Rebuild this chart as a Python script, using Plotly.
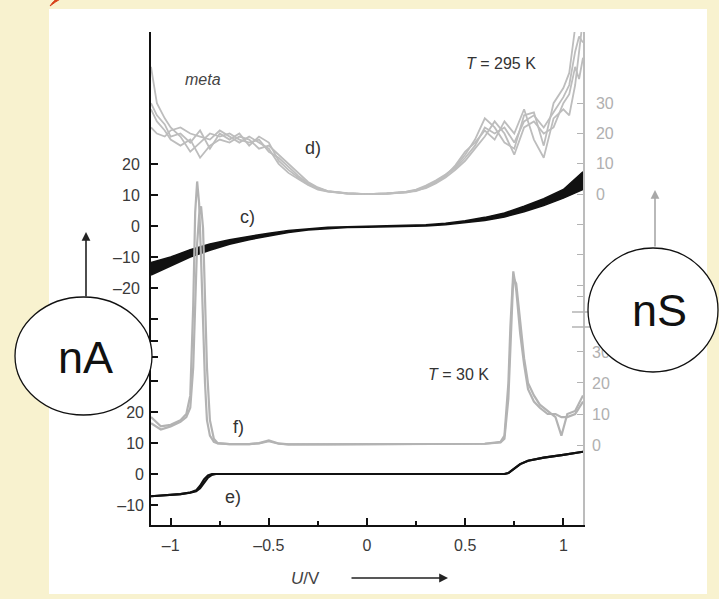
import plotly.graph_objects as go

# ---------------- data ----------------
# c) current at 295 K (nA, upper panel) - band of many sweeps
c_x = [-1.1, -1.0, -0.9, -0.8, -0.7, -0.6, -0.5, -0.4, -0.3, -0.2, -0.1, 0.0,
       0.1, 0.2, 0.3, 0.4, 0.5, 0.6, 0.7, 0.8, 0.9, 1.0, 1.1]
c_upper = [-11.8, -10.0, -7.6, -5.8, -4.4, -3.3, -2.3, -1.4, -0.8, -0.4, -0.2, -0.1,
           0.0, 0.1, 0.4, 0.9, 1.7, 2.8, 4.2, 6.4, 8.8, 11.8, 17.5]
c_lower = [-15.8, -13.0, -10.0, -7.8, -5.9, -4.4, -3.2, -2.1, -1.3, -0.8, -0.5, -0.4,
           -0.3, -0.2, 0.0, 0.4, 1.0, 1.8, 2.9, 4.6, 6.6, 9.0, 11.8]

# d) conductance at 295 K (nS, upper panel) - strands of the bundle
d_x = [-1.1, -1.07, -1.03, -1.0, -0.95, -0.9, -0.85, -0.8, -0.75, -0.7, -0.65, -0.6,
       -0.55, -0.5, -0.45, -0.4, -0.35, -0.3, -0.25, -0.2, -0.1, 0.0, 0.1, 0.2, 0.25,
       0.3, 0.35, 0.4, 0.45, 0.5, 0.55, 0.6, 0.65, 0.7, 0.75, 0.8, 0.85, 0.9, 0.95,
       1.0, 1.03, 1.06, 1.08, 1.1]
d_a = [42, 30, 25, 22, 19, 14, 17, 20, 19, 20, 18, 17, 18, 14, 12, 9, 6, 3.5, 2, 1,
       0.2, 0, 0.2, 0.8, 1.5, 2.8, 4.5, 6.5, 9, 13, 18, 25, 22, 17, 15, 26, 27, 16, 30,
       35, 40, 55, 60, 62]
d_b = [28, 24, 21, 18, 16, 18, 12, 16, 18, 17, 19, 18, 15, 16, 13, 10, 7, 4, 2.2, 1,
       0.3, 0, 0.2, 0.5, 1.2, 2.0, 3.5, 5.5, 8, 11, 15, 19, 24, 20, 13, 22, 24, 20, 22,
       30, 33, 42, 38, 45]
d_c = [22, 20, 19, 21, 22, 20, 19, 18, 21, 19, 17, 19, 17, 15, 10, 7, 5, 3, 1.5, 0.8,
       0.2, 0, 0.1, 0.6, 1.0, 2.2, 3.8, 6, 9.5, 14, 17, 21, 18, 24, 20, 28, 18, 12, 25,
       28, 26, 36, 48, 58]
d_d = [30, 26, 23, 19, 20, 17, 21, 15, 20, 18, 20, 16, 19, 17, 11, 8, 5.5, 3.2, 1.8, 0.9,
       0.2, 0, 0.2, 0.7, 1.3, 2.5, 4.2, 6.2, 8.5, 12, 16, 22, 20, 22, 17, 24, 26, 22, 27,
       32, 36, 47, 52, 50]

# e) current at 30 K (nA, lower panel)
e_x = [-1.1, -1.0, -0.95, -0.9, -0.87, -0.85, -0.83, -0.81, -0.79, -0.77, 0.0, 0.7,
       0.72, 0.75, 0.78, 0.82, 0.9, 1.0, 1.1]
e_a = [-7.2, -6.8, -6.5, -6.0, -5.6, -4.6, -2.8, -1.2, -0.3, 0.0, 0.0, 0.0,
       0.3, 1.8, 3.2, 4.3, 5.3, 6.2, 7.2]
e_b = [-7.2, -6.8, -6.5, -6.0, -5.3, -3.8, -1.8, -0.5, 0.0, 0.0, 0.0, 0.0,
       0.3, 1.8, 3.2, 4.3, 5.3, 6.2, 7.2]

# f) conductance at 30 K (nS, lower panel) - two strands
f_x = [-1.1, -1.05, -1.0, -0.95, -0.92, -0.9, -0.885, -0.875, -0.865, -0.855, -0.845,
       -0.835, -0.825, -0.815, -0.8, -0.78, -0.76, -0.7, -0.6, -0.55, -0.5, -0.45, -0.4,
       -0.2, 0.0, 0.2, 0.4, 0.6, 0.68, 0.7, 0.72, 0.73, 0.745, 0.76, 0.78, 0.8, 0.82,
       0.85, 0.88, 0.92, 0.96, 0.99, 1.02, 1.06, 1.1]
f_a = [9, 6, 6.5, 8, 10, 16, 45, 75, 85, 78, 60, 40, 20, 8, 3, 1, 0.5, 0.3, 0.3, 0.6,
       1.5, 0.5, 0.2, 0.2, 0.2, 0.2, 0.2, 0.4, 1.0, 3, 20, 38, 56, 50, 36, 26, 18, 14,
       12, 10, 10, 9, 9, 10, 14]
f_b = [7, 5, 6, 7.5, 9, 12, 25, 45, 65, 74, 77, 70, 45, 25, 8, 2, 0.6, 0.3, 0.3, 0.5,
       1.2, 0.4, 0.2, 0.2, 0.2, 0.2, 0.2, 0.4, 0.8, 2, 15, 32, 54, 52, 40, 28, 20, 16,
       13, 11, 9, 3, 10, 11, 16]

x_ticks = [-1, -0.5, 0, 0.5, 1]
x_ticktext = ["\u20131", "\u20130.5", "0", "0.5", "1"]
nA_up_ticks = [-30, -20, -10, 0, 10, 20]
nA_up_text = ["", "\u201320", "\u201310", "0", "10", "20"]
nS_up_ticks = [-30, -20, -10, 0, 10, 20, 30]
nS_up_text = ["", "", "", "0", "10", "20", "30"]
nA_lo_ticks = [-10, 0, 10, 20, 30, 38, 43]
nA_lo_text = ["\u201310", "0", "10", "20", "", "", ""]
nS_lo_ticks = [0, 10, 20, 30, 48]
nS_lo_text = ["0", "10", "20", "30", ""]

# ---------------- geometry helpers ----------------
W, H = 719, 599
L, R, T, B = 151, 583, 32, 525


def px(x):
    return (x - L) / (R - L)


def py(y):
    return (B - y) / (B - T)


FONT = "Liberation Sans, Arial, Helvetica, sans-serif"
GREY = "#b3b3b3"
CREAM = "#f8f2cf"

fig = go.Figure()

# f) (lower, nS)
for ys in (f_a, f_b):
    fig.add_trace(go.Scatter(x=f_x, y=ys, yaxis="y4", mode="lines",
                             line=dict(color=GREY, width=2.2), hoverinfo="skip"))
# d) (upper, nS)
for ys in (d_a, d_b, d_c, d_d):
    fig.add_trace(go.Scatter(x=d_x, y=ys, yaxis="y2", mode="lines",
                             line=dict(color="#bdbdbd", width=1.8), hoverinfo="skip"))
# e) (lower, nA)
for ys in (e_a, e_b):
    fig.add_trace(go.Scatter(x=e_x, y=ys, yaxis="y3", mode="lines",
                             line=dict(color="#111111", width=2.2), hoverinfo="skip"))
# c) (upper, nA) band
fig.add_trace(go.Scatter(x=c_x, y=c_lower, yaxis="y", mode="lines",
                         line=dict(color="#111111", width=1.5), hoverinfo="skip"))
fig.add_trace(go.Scatter(x=c_x, y=c_upper, yaxis="y", mode="lines", fill="tonexty",
                         fillcolor="#111111",
                         line=dict(color="#111111", width=1.5), hoverinfo="skip"))

tickfont = dict(family=FONT, size=16, color="#3a3a3a")
greyfont = dict(family=FONT, size=16, color="#b0b0b0")

fig.update_layout(
    width=W, height=H, autosize=False,
    margin=dict(l=L, r=W - R, t=T, b=H - B, pad=0),
    paper_bgcolor=CREAM,
    plot_bgcolor="white",
    showlegend=False,
    xaxis=dict(range=[-1.1, 1.1], tickmode="array", tickvals=x_ticks, ticktext=x_ticktext,
               ticks="inside", ticklen=7, tickwidth=1.5, tickcolor="#111",
               showline=True, linecolor="#111", linewidth=2, showgrid=False,
               zeroline=False, tickfont=tickfont, ticklabelstandoff=5,
               minor=dict(dtick=0.25, tick0=0, ticks="inside", ticklen=4,
                          tickwidth=1.5, tickcolor="#111")),
    yaxis=dict(range=[-96.45, 62.6], tickmode="array", tickvals=nA_up_ticks,
               ticktext=nA_up_text, ticks="inside", ticklen=7, tickwidth=1.5,
               tickcolor="#111", showline=True, linecolor="#111", linewidth=2,
               showgrid=False, zeroline=False, tickfont=tickfont, ticklabelstandoff=6),
    yaxis2=dict(range=[-109.2, 53.5], overlaying="y", side="right", tickmode="array",
                tickvals=nS_up_ticks, ticktext=nS_up_text, ticks="inside", ticklen=6,
                tickwidth=1.2, tickcolor=GREY, showline=True, linecolor="#bcbcbc",
                linewidth=1.5, showgrid=False, zeroline=False, tickfont=greyfont,
                ticklabelstandoff=8),
    yaxis3=dict(range=[-16.5, 143.0], overlaying="y", side="left", tickmode="array",
                tickvals=nA_lo_ticks, ticktext=nA_lo_text, ticks="inside", ticklen=7,
                tickwidth=1.5, tickcolor="#111", showline=False, showgrid=False,
                zeroline=False, tickfont=tickfont, ticklabelstandoff=6),
    yaxis4=dict(range=[-25.8, 133.2], overlaying="y", side="right", tickmode="array",
                tickvals=nS_lo_ticks, ticktext=nS_lo_text, ticks="inside", ticklen=6,
                tickwidth=1.2, tickcolor=GREY, showline=False, showgrid=False,
                zeroline=False, tickfont=greyfont, ticklabelstandoff=8),
)

shapes = [
    # white page panel
    dict(type="rect", xref="paper", yref="paper", x0=px(49), x1=px(707), y0=py(594),
         y1=py(9), fillcolor="white", line=dict(width=0), layer="below"),
    # red swoosh in the corner
    dict(type="path", xref="paper", yref="paper",
         path=f"M {px(50)} {py(6)} Q {px(55)} {py(2)} {px(62)} {py(-2)} L {px(58)} {py(-2)} Q {px(53)} {py(1)} {px(50)} {py(6)} Z",
         fillcolor="#d8431c", line=dict(color="#d8431c", width=1), layer="above"),
    # axis break marks on the right axis
    dict(type="line", xref="paper", yref="paper", x0=px(572), x1=px(592), y0=py(312),
         y1=py(312), line=dict(color=GREY, width=1.5), layer="above"),
    dict(type="line", xref="paper", yref="paper", x0=px(572), x1=px(592), y0=py(327),
         y1=py(327), line=dict(color=GREY, width=1.5), layer="above"),
    # unit bubbles
    dict(type="circle", xref="paper", yref="paper", x0=px(15), x1=px(152), y0=py(415),
         y1=py(297), fillcolor="white", line=dict(color="#111", width=1.3), layer="above"),
    dict(type="circle", xref="paper", yref="paper", x0=px(588), x1=px(718), y0=py(372),
         y1=py(248), fillcolor="white", line=dict(color="#111", width=1.3), layer="above"),
]
fig.update_layout(shapes=shapes)


def label(text, x, y, size=17, color="#333", italic=False):
    if italic:
        text = f"<i>{text}</i>"
    return dict(text=text, xref="paper", yref="paper", x=px(x), y=py(y), showarrow=False,
                xanchor="center", yanchor="middle",
                font=dict(family=FONT, size=size, color=color))


def arrow(xh, yh, ax, ay, color):
    return dict(text="", xref="paper", yref="paper", x=px(xh), y=py(yh), ax=ax, ay=ay,
                showarrow=True, arrowhead=2, arrowsize=1.1, arrowwidth=1.6,
                arrowcolor=color, standoff=0, startstandoff=0)


annotations = [
    label("meta", 203, 79, size=16, color="#444", italic=True),
    label("d)", 313, 148, size=18),
    label("c)", 247, 217, size=18),
    label("<i>T</i> = 295 K", 501, 63, size=16),
    label("<i>T</i> = 30 K", 458, 374, size=16),
    label("f)", 238, 427, size=18),
    label("e)", 233, 497, size=18),
    label("<i>U</i>/V", 305, 578, size=17, color="#444"),
    arrow(448, 578, -98, 0, "#222"),
    arrow(86, 232, 0, 66, "#222"),
    arrow(655, 190, 0, 58, "#a8a8a8"),
    label("nA", 85, 357, size=45, color="#111"),
    label("nS", 659, 310, size=45, color="#111"),
]
fig.update_layout(annotations=annotations)

fig.write_html(
    "out.html",
    config={"displayModeBar": False},
    post_script=(
        "document.body.style.margin='0';"
        "document.body.style.padding='0';"
        f"document.body.style.background='{CREAM}';"
    ),
)
